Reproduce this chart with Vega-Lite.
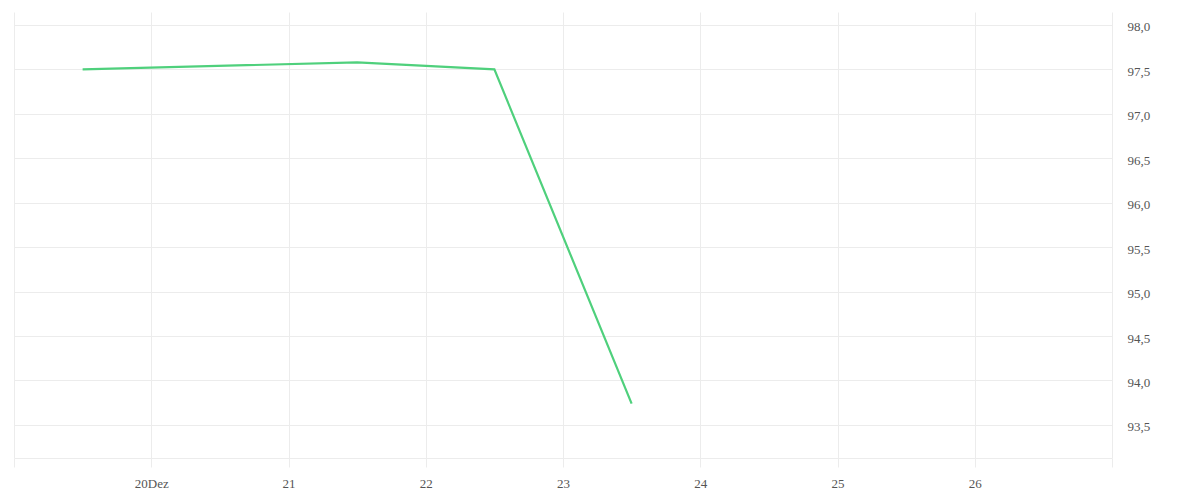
{
  "$schema": "https://vega.github.io/schema/vega-lite/v6.json",
  "width": 1098,
  "height": 446,
  "autosize": {"type": "none"},
  "padding": {"left": 14, "top": 12, "right": 88, "bottom": 42},
  "background": "white",
  "config": {
    "view": {"stroke": null},
    "axis": {
      "labelFont": "Liberation Serif",
      "labelFontSize": 13,
      "labelColor": "#555555",
      "gridColor": "#ececec",
      "gridWidth": 1,
      "domainColor": "#ececec",
      "tickColor": "#ececec"
    }
  },
  "data": {
    "values": [
      {"Datum": "2024-12-19T12:00:00Z", "Wert": 97.5},
      {"Datum": "2024-12-21T12:00:00Z", "Wert": 97.58},
      {"Datum": "2024-12-22T12:00:00Z", "Wert": 97.5},
      {"Datum": "2024-12-23T12:00:00Z", "Wert": 93.74}
    ]
  },
  "mark": {"type": "line", "color": "#4fd07c", "strokeWidth": 2.2},
  "encoding": {
    "x": {
      "field": "Datum",
      "type": "temporal",
      "scale": {"type": "utc", "domain": ["2024-12-19T00:00:00Z", "2024-12-27T00:00:00Z"], "nice": false},
      "axis": {
        "title": null,
        "tickCount": {"interval": "day", "step": 1},
        "labelExpr": "utcdate(datum.value) == 20 ? '20Dez' : (utcdate(datum.value) == 19 || utcdate(datum.value) == 27 ? '' : utcFormat(datum.value, '%d'))",
        "tickSize": 9,
        "labelPadding": 10,
        "domain": true
      }
    },
    "y": {
      "field": "Wert",
      "type": "quantitative",
      "scale": {"domain": [93.128, 98.146], "nice": false, "zero": false},
      "axis": {
        "orient": "right",
        "title": null,
        "values": [93.5, 94, 94.5, 95, 95.5, 96, 96.5, 97, 97.5, 98],
        "labelExpr": "replace(format(datum.value, '.1f'), '.', ',')",
        "ticks": false,
        "domain": false,
        "labelPadding": 15,
        "labelBaseline": "middle",
        "labelOffset": 2
      }
    }
  }
}
